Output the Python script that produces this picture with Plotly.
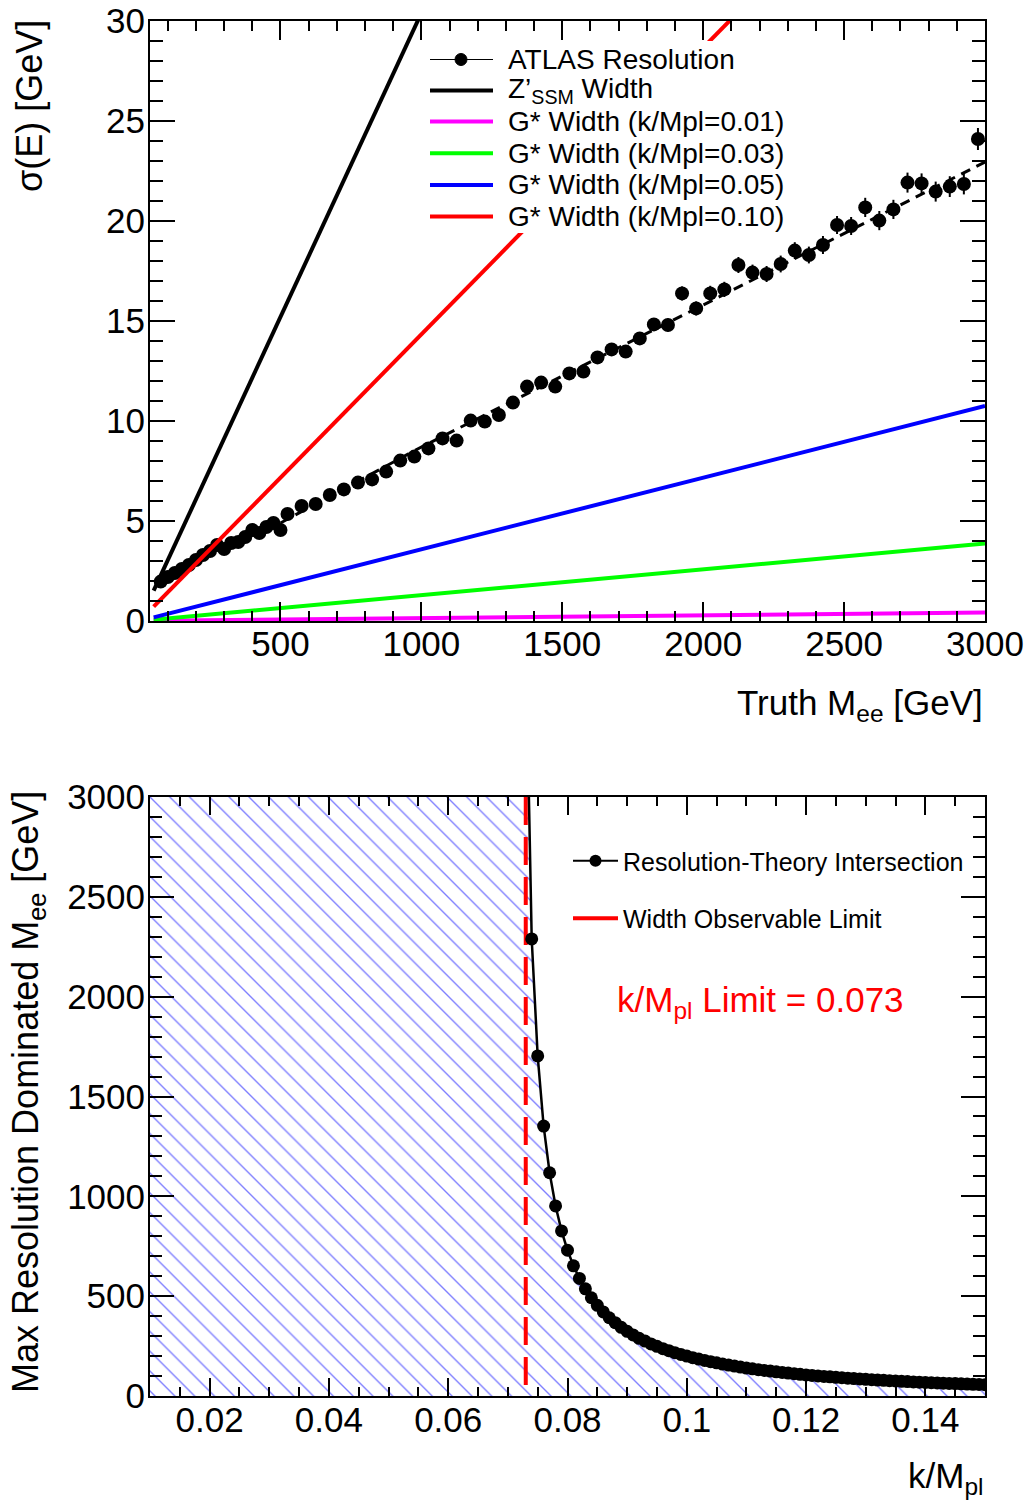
import plotly.graph_objects as go

# ---------------- data: top panel ----------------
res_mass = [75, 100, 125, 150, 175, 200, 225, 250, 275, 300, 325, 350, 375, 400, 425, 450, 475, 500,
            525, 575, 625, 675, 725, 775, 825, 875, 925, 975,
            1025, 1075, 1125, 1175, 1225, 1275, 1325, 1375, 1425, 1475,
            1525, 1575, 1625, 1675, 1725, 1775, 1825, 1875, 1925, 1975,
            2025, 2075, 2125, 2175, 2225, 2275, 2325, 2375, 2425, 2475,
            2525, 2575, 2625, 2675, 2725, 2775, 2825, 2875, 2925, 2975]
res_sigma = [1.97, 2.2, 2.4, 2.6, 2.8, 3.05, 3.3, 3.5, 3.8, 3.6, 3.9, 3.95, 4.2, 4.55, 4.4, 4.7, 4.9, 4.55,
             5.35, 5.75, 5.85, 6.3, 6.58, 6.92, 7.08, 7.47, 8.02, 8.22,
             8.63, 9.13, 9.02, 10.02, 9.97, 10.3, 10.92, 11.72, 11.92, 11.72,
             12.38, 12.47, 13.18, 13.58, 13.47, 14.13, 14.83, 14.8, 16.38, 15.63,
             16.38, 16.58, 17.8, 17.42, 17.35, 17.85, 18.52, 18.3, 18.8, 19.8,
             19.75, 20.68, 20.02, 20.58, 21.92, 21.88, 21.47, 21.72, 21.85, 24.1]
res_err = [0.08, 0.08, 0.08, 0.08, 0.08, 0.08, 0.08, 0.08, 0.08, 0.08, 0.08, 0.08, 0.08, 0.08, 0.08, 0.08, 0.08, 0.08,
           0.12, 0.12, 0.12, 0.12, 0.12, 0.12, 0.12, 0.12, 0.15, 0.15,
           0.2, 0.2, 0.2, 0.2, 0.22, 0.22, 0.22, 0.25, 0.25, 0.25,
           0.28, 0.28, 0.3, 0.3, 0.3, 0.32, 0.32, 0.32, 0.35, 0.35,
           0.38, 0.38, 0.4, 0.4, 0.4, 0.42, 0.42, 0.42, 0.45, 0.45,
           0.45, 0.48, 0.48, 0.48, 0.5, 0.5, 0.5, 0.52, 0.52, 0.55]

fit_mass = [500, 1000, 2000, 3000]
fit_sigma = [4.9, 8.7, 15.8, 22.95]

width_mass = [50, 3000]
zprime_width = [1.52, 91.2]
gstar_width_k001 = [0.0072, 0.43]
gstar_width_k003 = [0.0645, 3.87]
gstar_width_k005 = [0.179, 10.75]
gstar_width_k010 = [0.717, 43.0]
gstar_labels = ["0.01", "0.03", "0.05", "0.10"]
gstar_colors = ["#ff00ff", "#00ff00", "#0000ff", "#ff0000"]

# ---------------- data: bottom panel ----------------
k_values = [0.073, 0.074, 0.075, 0.076, 0.077, 0.078, 0.079, 0.080, 0.081, 0.082, 0.083, 0.084,
            0.085, 0.086, 0.087, 0.088, 0.089, 0.090, 0.091, 0.092, 0.093, 0.094, 0.095, 0.096,
            0.097, 0.098, 0.099, 0.100, 0.101, 0.102, 0.103, 0.104, 0.105, 0.106, 0.107, 0.108,
            0.109, 0.110, 0.111, 0.112, 0.113, 0.114, 0.115, 0.116, 0.117, 0.118, 0.119, 0.120,
            0.121, 0.122, 0.123, 0.124, 0.125, 0.126, 0.127, 0.128, 0.129, 0.130, 0.131, 0.132,
            0.133, 0.134, 0.135, 0.136, 0.137, 0.138, 0.139, 0.140, 0.141, 0.142, 0.143, 0.144,
            0.145, 0.146, 0.147, 0.148, 0.149, 0.150]
max_mass = [3800, 2289, 1703, 1352, 1118, 952, 827, 730, 652, 589, 537, 492,
            454, 421, 392, 367, 344, 324, 306, 289, 275, 261, 249, 237,
            227, 217, 208, 200, 192, 185, 178, 172, 166, 160, 155, 150,
            145, 140, 136, 132, 128, 125, 121, 118, 115, 111.5, 108.6, 105.8,
            103.2, 100.6, 98.2, 95.8, 93.6, 91.4, 89.3, 87.3, 85.4, 83.5, 81.7, 80.0,
            78.3, 76.7, 75.1, 73.6, 72.1, 70.7, 69.3, 68.0, 66.7, 65.5, 64.3, 63.1,
            62.0, 60.8, 59.8, 58.7, 57.7, 56.7]
assert len(k_values) == len(max_mass)
k_limit = 0.073
k_axis_min = 0.01

FONT = "Liberation Sans, Arial, sans-serif"

# ---------------- geometry helpers (pixel -> paper) ----------------
L, R, T, B = 150, 48, 21, 106
W, H = 1033, 1502
PW, PH = W - L - R, H - T - B


def px_x(p):
    return (p - L) / PW


def px_y(p):
    return (H - B - p) / PH


fig = go.Figure()

# ---------- top panel ----------
fig.add_trace(go.Scatter(
    x=res_mass, y=res_sigma, mode="markers",
    error_y=dict(type="data", array=res_err, color="black", thickness=2, width=0),
    marker=dict(color="black", size=14), showlegend=False, xaxis="x", yaxis="y"))
fig.add_trace(go.Scatter(
    x=fit_mass, y=fit_sigma, mode="lines", line=dict(color="black", width=3, dash="10px,7px"),
    showlegend=False, xaxis="x", yaxis="y"))
fig.add_trace(go.Scatter(
    x=width_mass, y=zprime_width, mode="lines", line=dict(color="black", width=4),
    showlegend=False, xaxis="x", yaxis="y"))
for i, w in enumerate([gstar_width_k001, gstar_width_k003, gstar_width_k005, gstar_width_k010]):
    fig.add_trace(go.Scatter(
        x=width_mass, y=w, mode="lines", line=dict(color=gstar_colors[i], width=4),
        showlegend=False, xaxis="x", yaxis="y"))

# ---------- bottom panel ----------
fill_x = [k_axis_min, k_axis_min] + k_values + [k_values[-1]]
fill_y = [0, 3000] + max_mass + [0]
fig.add_trace(go.Scatter(
    x=fill_x, y=fill_y, mode="lines", fill="toself", line=dict(width=0, color="rgba(0,0,0,0)"),
    fillcolor="white",
    fillpattern=dict(shape="\\", fgcolor="#0000ff", bgcolor="white", size=14, solidity=0.1),
    showlegend=False, hoverinfo="skip", xaxis="x2", yaxis="y2"))
fig.add_trace(go.Scatter(
    x=[k_limit, k_limit], y=[3000, 0], mode="lines",
    line=dict(color="#ff0000", width=4, dash="28px,12px"),
    showlegend=False, xaxis="x2", yaxis="y2"))
fig.add_trace(go.Scatter(
    x=k_values, y=max_mass, mode="lines+markers",
    line=dict(color="black", width=2.5), marker=dict(color="black", size=13),
    showlegend=False, xaxis="x2", yaxis="y2"))
fig.add_trace(go.Scatter(
    x=[None], y=[None], mode="lines+markers", name="Resolution-Theory Intersection",
    line=dict(color="black", width=2), marker=dict(color="black", size=12),
    legend="legend2", legendgroup="a", xaxis="x2", yaxis="y2"))
fig.add_trace(go.Scatter(
    x=[None], y=[None], mode="lines", name="Width Observable Limit",
    line=dict(color="#ff0000", width=4),
    legend="legend2", legendgroup="b", xaxis="x2", yaxis="y2"))

# ---------- top legend (drawn by hand for ROOT-like spacing) ----------
legend_entries = [
    ("ATLAS Resolution", "black", 1, 59.5),
    ("Z’<sub>SSM</sub> Width", "black", 4, 90.5),
] + [(f"G* Width (k/Mpl={lab})", gstar_colors[i], 4, 121.5 + 31.7 * i)
     for i, lab in enumerate(gstar_labels)]

shapes = [dict(type="rect", xref="paper", yref="paper", layer="above",
               x0=px_x(424), x1=px_x(796), y0=px_y(233), y1=px_y(41),
               fillcolor="white", line=dict(width=0))]
annotations = []
for text, color, lw, ypx in legend_entries:
    shapes.append(dict(type="line", xref="paper", yref="paper", layer="above",
                       x0=px_x(430), x1=px_x(493), y0=px_y(ypx), y1=px_y(ypx),
                       line=dict(color=color, width=lw)))
    annotations.append(dict(text=text, xref="paper", yref="paper", x=px_x(506), y=px_y(ypx),
                            xanchor="left", yanchor="middle", showarrow=False,
                            font=dict(family=FONT, size=28, color="black")))
shapes.append(dict(type="circle", xref="paper", yref="paper", layer="above",
                   x0=px_x(455), x1=px_x(467), y0=px_y(65.5), y1=px_y(53.5),
                   fillcolor="black", line=dict(color="black", width=1)))


def axis_style(ticklen, minorlen, dtick, minor_dtick, rng, standoff):
    return dict(
        range=rng, showline=True, linecolor="black", linewidth=2, mirror="ticks",
        ticks="inside", ticklen=ticklen, tickwidth=1.5, tickcolor="black",
        dtick=dtick, tick0=0, showgrid=False, zeroline=False,
        ticklabelstandoff=standoff,
        tickfont=dict(family=FONT, size=35, color="black"),
        minor=dict(ticks="inside", ticklen=minorlen, tickwidth=1.5, tickcolor="black",
                   dtick=minor_dtick, showgrid=False),
    )


annotations += [
    dict(text="σ(E) [GeV]", textangle=-90, xref="paper", yref="paper",
         x=px_x(30), y=px_y(18), xanchor="center", yanchor="top", showarrow=False,
         font=dict(family=FONT, size=36, color="black")),
    dict(text="Truth M<sub>ee</sub> [GeV]", xref="paper", yref="paper",
         x=1, y=px_y(705), xanchor="right", yanchor="middle", showarrow=False,
         font=dict(family=FONT, size=35, color="black")),
    dict(text="Max Resolution Dominated M<sub>ee</sub> [GeV]", textangle=-90,
         xref="paper", yref="paper", x=px_x(28), y=px_y(789),
         xanchor="center", yanchor="top", showarrow=False,
         font=dict(family=FONT, size=36, color="black")),
    dict(text="k/M<sub>pl</sub>", xref="paper", yref="paper",
         x=1, y=px_y(1478), xanchor="right", yanchor="middle", showarrow=False,
         font=dict(family=FONT, size=35, color="black")),
    dict(text=f"k/M<sub>pl</sub> Limit = {k_limit:.3f}", xref="paper", yref="paper",
         x=px_x(760), y=px_y(1002), xanchor="center", yanchor="middle", showarrow=False,
         font=dict(family=FONT, size=35, color="#ff0000")),
]

fig.update_layout(
    width=W, height=H,
    margin=dict(l=L, r=R, t=T, b=B, autoexpand=False),
    paper_bgcolor="white", plot_bgcolor="white",
    font=dict(family=FONT, color="black"),
    xaxis=dict(anchor="y", domain=[0, 1], **axis_style(19, 10, 500, 100, [37, 3000], -9)),
    yaxis=dict(anchor="x", domain=[px_y(621), 1], **axis_style(25, 13, 5, 1, [0, 30], -4)),
    xaxis2=dict(anchor="y2", domain=[0, 1],
                **axis_style(18, 9, 0.02, 0.005, [k_axis_min, 0.15], -8)),
    yaxis2=dict(anchor="x2", domain=[0, px_y(797)], **axis_style(24, 12, 500, 100, [0, 3000], -4)),
    legend2=dict(x=px_x(568), y=px_y(838), xanchor="left", yanchor="top",
                 bgcolor="rgba(0,0,0,0)", borderwidth=0, itemwidth=45,
                 traceorder="grouped", tracegroupgap=22,
                 font=dict(family=FONT, size=25, color="black")),
    shapes=shapes,
    annotations=annotations,
)

fig.write_html("out.html", config={"displayModeBar": False},
               post_script="document.body.style.margin='0';document.body.style.padding='0';")
